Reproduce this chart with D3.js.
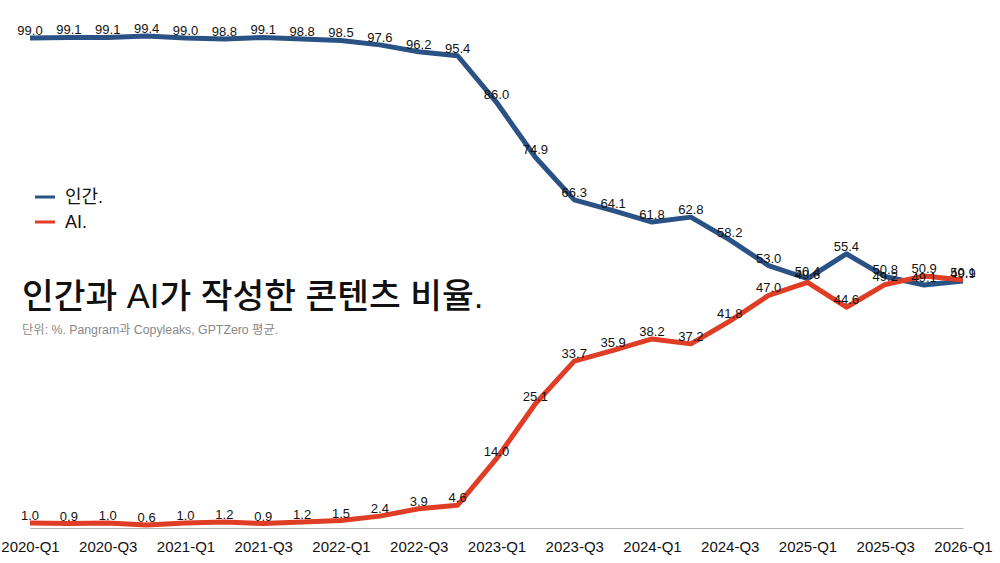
<!DOCTYPE html>
<html><head><meta charset="utf-8">
<script src="https://cdn.jsdelivr.net/npm/d3@7"></script>
<style>
body{margin:0;background:#fff;}
svg{display:block;font-family:"Liberation Sans","Noto Sans CJK KR",Arial,sans-serif;}
</style></head>
<body>
<svg id="c" width="1000" height="563"></svg>
<script>
const quarters = ["2020-Q1","2020-Q2","2020-Q3","2020-Q4","2021-Q1","2021-Q2","2021-Q3","2021-Q4","2022-Q1","2022-Q2","2022-Q3","2022-Q4","2023-Q1","2023-Q2","2023-Q3","2023-Q4","2024-Q1","2024-Q2","2024-Q3","2024-Q4","2025-Q1","2025-Q2","2025-Q3","2025-Q4","2026-Q1"];
const human = [99.0,99.1,99.1,99.4,99.0,98.8,99.1,98.8,98.5,97.6,96.2,95.4,86.0,74.9,66.3,64.1,61.8,62.8,58.2,53.0,50.4,55.4,50.8,49.1,49.9];
const ai = [1.0,0.9,1.0,0.6,1.0,1.2,0.9,1.2,1.5,2.4,3.9,4.6,14.0,25.1,33.7,35.9,38.2,37.2,41.8,47.0,49.6,44.6,49.2,50.9,50.1];
const tickLabels = ["2020-Q1","2020-Q3","2021-Q1","2021-Q3","2022-Q1","2022-Q3","2023-Q1","2023-Q3","2024-Q1","2024-Q3","2025-Q1","2025-Q3","2026-Q1"];
const seriesNames = ["인간.","AI."];
const title = "인간과 AI가 작성한 콘텐츠 비율.";
const subtitle = "단위: %. Pangram과 Copyleaks, GPTZero 평균.";

const colors = ["#2a5285","#e03d27"];
const svg = d3.select("#c");
const x = d3.scalePoint().domain(quarters).range([30,963]);
const y = d3.scaleLinear().domain([0,100]).range([528,33]);

// axis
const ax = svg.append("g").attr("transform","translate(0,528)")
  .call(d3.axisBottom(x).tickValues(tickLabels).tickSize(0).tickPadding(13));
ax.select(".domain").attr("stroke","#b0b0b0").attr("stroke-width",1.2);
ax.selectAll("text").attr("font-size",15).attr("fill","#111").attr("font-family","Liberation Sans, Arial, sans-serif");

const series = [human, ai];
const line = d3.line().x((d,i)=>x(quarters[i])).y(d=>y(d));
series.forEach((s,k)=>{
  svg.append("path").datum(s).attr("d",line).attr("fill","none")
    .attr("stroke",colors[k]).attr("stroke-width",5).attr("stroke-linejoin","round");
});
series.forEach((s,k)=>{
  svg.append("g").selectAll("text").data(s).join("text")
    .attr("x",(d,i)=>x(quarters[i])).attr("y",d=>y(d)-3)
    .attr("text-anchor","middle").attr("font-size",13).attr("fill","#111")
    .text(d=>d.toFixed(1));
});

// legend
seriesNames.forEach((n,k)=>{
  const yy = 197 + k*25;
  svg.append("line").attr("x1",35).attr("x2",55).attr("y1",yy).attr("y2",yy)
    .attr("stroke",colors[k]).attr("stroke-width",3);
  svg.append("text").attr("x",65).attr("y",yy+6).attr("font-size",18).attr("fill","#111").text(n);
});

svg.append("text").attr("x",22).attr("y",308).attr("font-size",34.5).attr("font-weight",500).attr("fill","#111").text(title);
svg.append("text").attr("x",22).attr("y",334).attr("font-size",12.3).attr("fill","#888").text(subtitle);
</script>
</body></html>
